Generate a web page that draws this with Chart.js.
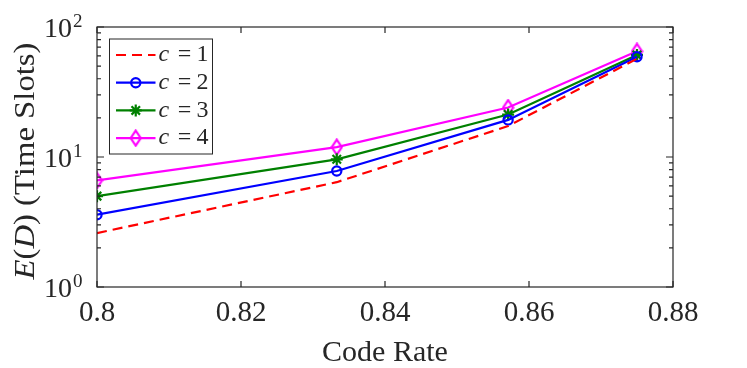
<!DOCTYPE html>
<html><head><meta charset="utf-8">
<script src="https://cdn.jsdelivr.net/npm/chart.js@4/dist/chart.umd.min.js"></script>
<style>html,body{margin:0;padding:0;background:#fff}#wrap{width:747px;height:368px}</style>
</head><body><div id="wrap"><canvas id="c" width="747" height="368"></canvas></div>
<script>
const codeRates = [0.8, 0.8333, 0.8571, 0.875];
const seriesC1 = [2.6, 6.4, 17.3, 57];
const seriesC2 = [3.6, 7.8, 19.3, 59];
const seriesC3 = [5.0, 9.6, 21.2, 61];
const seriesC4 = [6.6, 11.9, 24.0, 65];
const seriesNames = ['1', '2', '3', '4'];
const xTicks = [0.8, 0.82, 0.84, 0.86, 0.88];
const yMajorTicks = [1, 10, 100];
const yExponents = ['0', '1', '2'];
const xTitle = 'Code Rate';

const SERIF = '"Liberation Serif", "DejaVu Serif", serif';
const TXT = '#262626';
const pts = arr => arr.map((v, i) => ({x: codeRates[i], y: v}));

function diamondCanvas(color) {
  const w = 13, h = 18, c = document.createElement('canvas');
  c.width = w; c.height = h;
  const g = c.getContext('2d');
  g.strokeStyle = color; g.lineWidth = 2.2;
  g.beginPath();
  g.moveTo(w / 2, 1.5); g.lineTo(w - 1.5, h / 2); g.lineTo(w / 2, h - 1.5); g.lineTo(1.5, h / 2); g.closePath();
  g.stroke();
  return c;
}

const styles = [
  {color: '#ff0000', dash: [10, 6], point: false, r: 0},
  {color: '#0000ff', dash: [], point: 'circle', r: 4.6},
  {color: '#008000', dash: [], point: 'star', r: 6},
  {color: '#ff00ff', dash: [], point: diamondCanvas('#ff00ff'), r: 7}
];
const allSeries = [seriesC1, seriesC2, seriesC3, seriesC4];

const datasets = allSeries.map((s, i) => ({
  label: 'c = ' + seriesNames[i],
  data: pts(s),
  borderColor: styles[i].color,
  backgroundColor: 'rgba(0,0,0,0)',
  borderWidth: 2.2,
  borderDash: styles[i].dash,
  pointStyle: styles[i].point,
  pointRadius: styles[i].r,
  pointBorderWidth: 2.2,
  pointBorderColor: styles[i].color,
  pointBackgroundColor: 'rgba(0,0,0,0)',
  tension: 0
}));

const decor = {
  id: 'decor',
  afterDraw(chart) {
    const ctx = chart.ctx, a = chart.chartArea;
    const xs = chart.scales.x, ys = chart.scales.y;
    ctx.save();
    ctx.strokeStyle = TXT; ctx.lineWidth = 1.2;
    ctx.strokeRect(a.left, a.top, a.right - a.left, a.bottom - a.top);
    ctx.beginPath();
    xTicks.forEach(v => {
      const p = xs.getPixelForValue(v);
      ctx.moveTo(p, a.bottom); ctx.lineTo(p, a.bottom - 6);
      ctx.moveTo(p, a.top); ctx.lineTo(p, a.top + 6);
    });
    for (let d = 1; d <= 100; d *= 10) {
      for (let m = 1; m <= 9; m++) {
        const v = d * m; if (v > 100) break;
        const p = ys.getPixelForValue(v);
        const L = m === 1 ? 7 : 4;
        ctx.moveTo(a.left, p); ctx.lineTo(a.left + L, p);
        ctx.moveTo(a.right, p); ctx.lineTo(a.right - L, p);
      }
    }
    ctx.stroke();
    // y tick labels with superscripts
    ctx.fillStyle = TXT;
    yMajorTicks.forEach((v, i) => {
      const p = ys.getPixelForValue(v);
      ctx.font = '28px ' + SERIF;
      ctx.textAlign = 'right'; ctx.textBaseline = 'alphabetic';
      ctx.fillText('10', a.left - 25, p + 9.5);
      ctx.font = '19px ' + SERIF;
      ctx.textAlign = 'left';
      ctx.fillText(yExponents[i], a.left - 24, p);
    });
    // y title
    ctx.save();
    const cy = (a.top + a.bottom) / 2 + 4;
    ctx.translate(26, cy);
    ctx.rotate(-Math.PI / 2);
    const parts = [['E', true], ['(', false], ['D', true], [') (Time Slots)', false]];
    const tf = '30px ' + SERIF;
    let total = 0;
    parts.forEach(p => { ctx.font = (p[1] ? 'italic ' : '') + tf; total += ctx.measureText(p[0]).width; });
    const sx = 237 / total;
    ctx.scale(sx, 1);
    let x0 = -total / 2;
    ctx.textAlign = 'left'; ctx.textBaseline = 'middle';
    parts.forEach(p => { ctx.font = (p[1] ? 'italic ' : '') + tf; ctx.fillText(p[0], x0, 0); x0 += ctx.measureText(p[0]).width; });
    ctx.restore();
    // legend
    const lx = a.left + 12.5, ly = a.top + 12, lw = 103, lh = 115;
    ctx.fillStyle = '#fff';
    ctx.fillRect(lx, ly, lw, lh);
    ctx.strokeStyle = TXT; ctx.lineWidth = 1;
    ctx.strokeRect(lx, ly, lw, lh);
    chart.data.datasets.forEach((ds, i) => {
      const y = ly + 16 + i * 27.7;
      const x1 = lx + 6.5, x2 = lx + 46, xm = (x1 + x2) / 2;
      ctx.strokeStyle = ds.borderColor; ctx.lineWidth = ds.borderWidth;
      ctx.setLineDash(ds.borderDash);
      ctx.beginPath(); ctx.moveTo(x1, y); ctx.lineTo(x2, y); ctx.stroke();
      ctx.setLineDash([]);
      if (ds.pointStyle) {
        ctx.fillStyle = 'rgba(0,0,0,0)';
        Chart.helpers.drawPoint(ctx, {pointStyle: ds.pointStyle, radius: ds.pointRadius, borderWidth: ds.pointBorderWidth, rotation: 0}, xm, y);
      }
      ctx.fillStyle = TXT;
      ctx.textBaseline = 'middle';
      const tx = lx + 49;
      ctx.font = 'italic 24px ' + SERIF;
      ctx.textAlign = 'left';
      ctx.fillText('c', tx, y);
      ctx.font = '24px ' + SERIF;
      ctx.textAlign = 'center';
      ctx.fillText('=', tx + 26, y);
      ctx.textAlign = 'left';
      ctx.fillText(seriesNames[i], tx + 38, y);
    });
    ctx.restore();
  }
};

new Chart(document.getElementById('c'), {
  type: 'line',
  data: {datasets},
  options: {
    responsive: false,
    animation: false,
    layout: {padding: {top: 27, right: 74, left: 0, bottom: 0}},
    plugins: {legend: {display: false}, tooltip: {enabled: false}},
    scales: {
      x: {
        type: 'linear', min: 0.8, max: 0.88,
        afterBuildTicks: s => { s.ticks = xTicks.map(v => ({value: v})); },
        afterFit: s => { s.height = 81; },
        grid: {display: false, drawTicks: false},
        border: {display: false},
        ticks: {font: {family: SERIF, size: 29}, color: TXT, padding: 9,
                callback: v => String(+v.toFixed(2))},
        title: {display: true, text: xTitle, font: {family: SERIF, size: 30, lineHeight: 1.0}, color: TXT, padding: {top: 0, bottom: 0}}
      },
      y: {
        type: 'logarithmic', min: 1, max: 100,
        afterFit: s => { s.width = 97; },
        grid: {display: false, drawTicks: false},
        border: {display: false},
        ticks: {display: false}
      }
    }
  },
  plugins: [decor]
});
</script></body></html>
